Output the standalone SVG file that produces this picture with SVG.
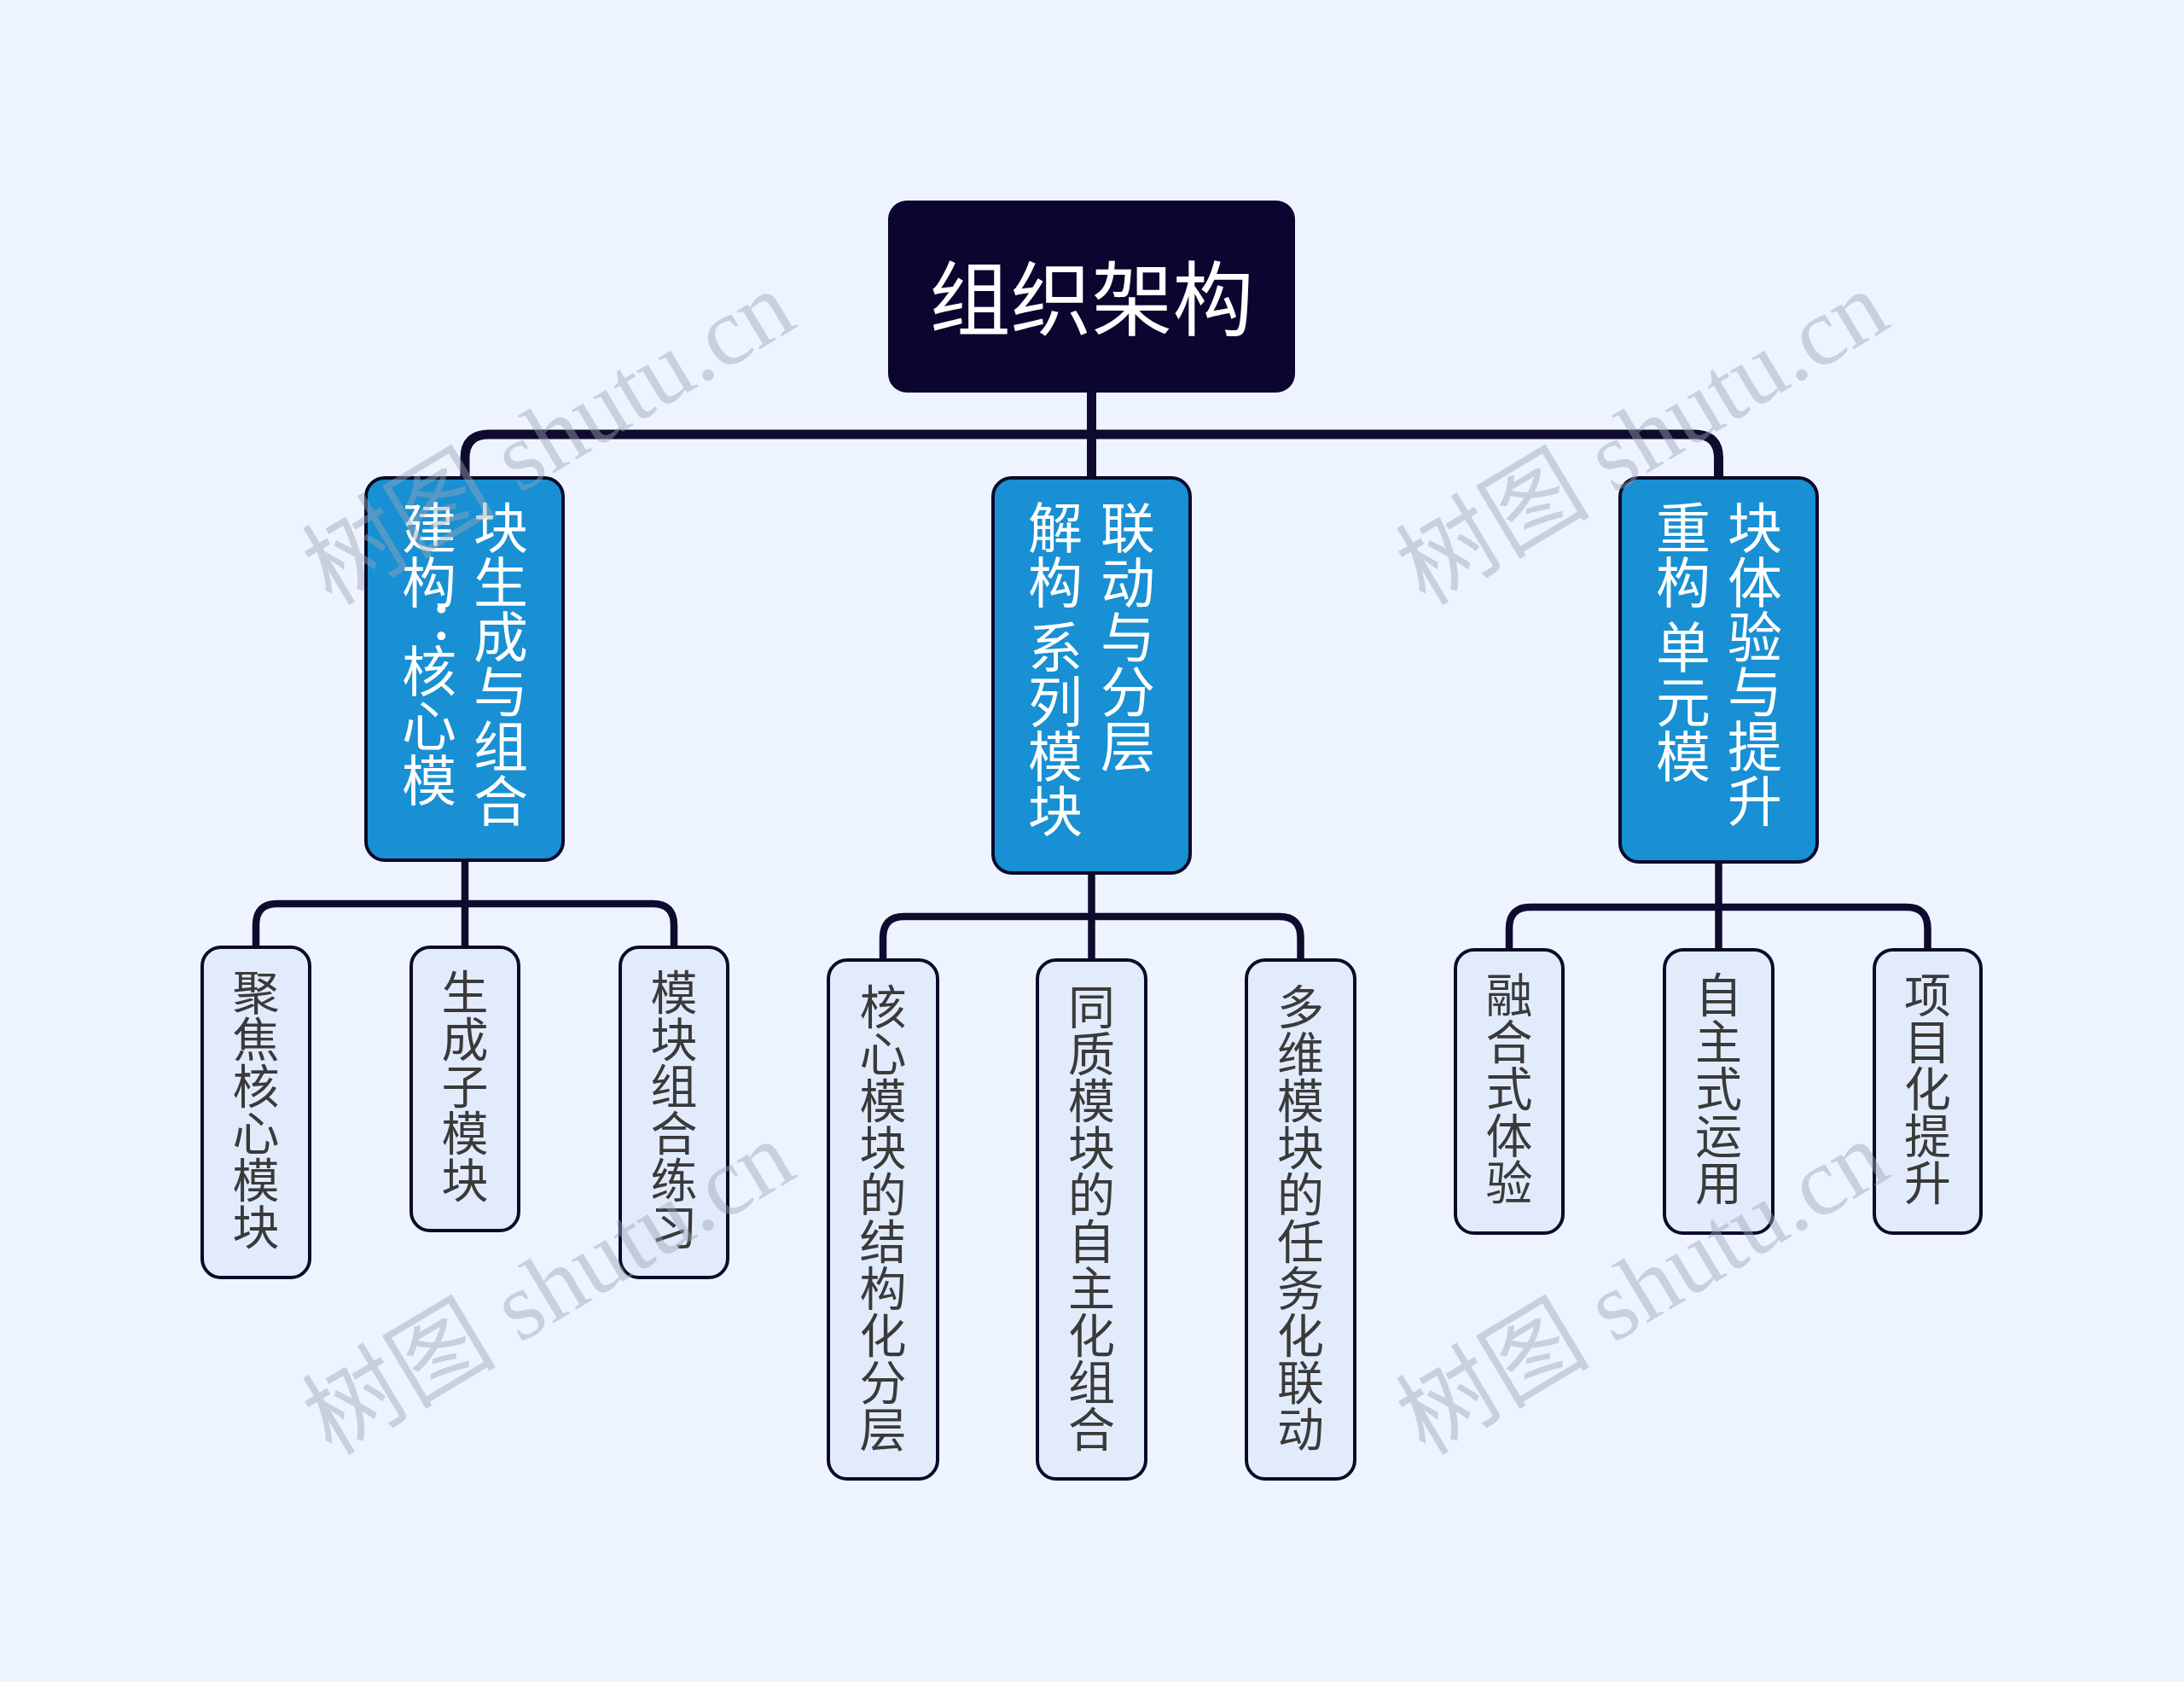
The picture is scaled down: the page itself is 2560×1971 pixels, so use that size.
<svg xmlns="http://www.w3.org/2000/svg" width="2560" height="1971" viewBox="0 0 2560 1971">
<style>
.bg{fill:#eef4ff}
.root{fill:#0b0630}
.l1{fill:#1890d3;stroke:#0b0a2a;stroke-width:4}
.l2{fill:#e2ebfc;stroke:#0b0a2a;stroke-width:4}
.c1{fill:none;stroke:#0e0b2e;stroke-width:11}
.c2{fill:none;stroke:#0e0b2e;stroke-width:8.5}
.tr{font-family:"Noto Sans CJK SC","Noto Sans",sans-serif;font-size:95px;fill:#ffffff;text-anchor:middle;dominant-baseline:central}
.t1{font-family:"Noto Sans CJK SC","Noto Sans",sans-serif;font-size:64px;fill:#ffffff;writing-mode:vertical-lr;text-orientation:upright}
.t2{font-family:"Noto Sans CJK SC","Noto Sans",sans-serif;font-size:55px;fill:#3a3a3a;writing-mode:vertical-lr;text-orientation:upright}
.wm{font-family:"Liberation Serif","Noto Sans CJK SC",serif;font-size:114px;fill:#9aa3b5;fill-opacity:0.45;text-anchor:middle}
</style>
<rect class="bg" x="0" y="0" width="2560" height="1971"/>

<g id="connectors">
<path class="c1" d="M1279.5 460 V560"/>
<path class="c1" d="M545 560 V537 Q545 509 573 509 H1986 Q2014.5 509 2014.5 537 V560"/>
<path class="c2" d="M545 1008 V1110"/>
<path class="c2" d="M300 1110 V1084 Q300 1059 325 1059 H765 Q790 1059 790 1084 V1110"/>
<path class="c2" d="M1279.5 1023 V1125"/>
<path class="c2" d="M1035 1125 V1099 Q1035 1074 1060 1074 H1499.5 Q1524.5 1074 1524.5 1099 V1125"/>
<path class="c2" d="M2014.5 1010 V1113"/>
<path class="c2" d="M1769 1113 V1088 Q1769 1063 1794 1063 H2234.5 Q2259.5 1063 2259.5 1088 V1113"/>
</g>

<g id="root">
<rect class="root" x="1041" y="235" width="477" height="225" rx="22"/>
<text class="tr" x="1279.5" y="344">组织架构</text>
</g>

<g id="n1">
<rect class="l1" x="429" y="560" width="231" height="448" rx="22"/>
<text class="t1"><tspan x="503" y="586">建构</tspan><tspan x="503" y="702">：</tspan><tspan x="503" y="754">核心模</tspan><tspan x="587" y="586">块生成与组合</tspan></text>
</g>
<g id="n2">
<rect class="l1" x="1164" y="560" width="231" height="463" rx="22"/>
<text class="t1"><tspan x="1237" y="586">解构</tspan><tspan x="1237" y="726">系列模块</tspan><tspan x="1322" y="586">联动与分层</tspan></text>
</g>
<g id="n3">
<rect class="l1" x="1899" y="560" width="231" height="450" rx="22"/>
<text class="t1"><tspan x="1973" y="586">重构</tspan><tspan x="1973" y="726">单元模</tspan><tspan x="2057" y="586">块体验与提升</tspan></text>
</g>

<g id="n1a"><rect class="l2" x="237" y="1110" width="126" height="387" rx="22"/><text class="t2" x="300" y="1135">聚焦核心模块</text></g>
<g id="n1b"><rect class="l2" x="482" y="1110" width="126" height="332" rx="22"/><text class="t2" x="545" y="1135">生成子模块</text></g>
<g id="n1c"><rect class="l2" x="727" y="1110" width="126" height="387" rx="22"/><text class="t2" x="790" y="1135">模块组合练习</text></g>

<g id="n2a"><rect class="l2" x="971" y="1125" width="128" height="608" rx="22"/><text class="t2" x="1035" y="1152">核心模块的结构化分层</text></g>
<g id="n2b"><rect class="l2" x="1216" y="1125" width="127" height="608" rx="22"/><text class="t2" x="1279.5" y="1152">同质模块的自主化组合</text></g>
<g id="n2c"><rect class="l2" x="1461" y="1125" width="127" height="608" rx="22"/><text class="t2" x="1524.5" y="1152">多维模块的任务化联动</text></g>

<g id="n3a"><rect class="l2" x="1706" y="1113" width="126" height="332" rx="22"/><text class="t2" x="1769" y="1138">融合式体验</text></g>
<g id="n3b"><rect class="l2" x="1951" y="1113" width="127" height="332" rx="22"/><text class="t2" x="2014.5" y="1138">自主式运用</text></g>
<g id="n3c"><rect class="l2" x="2197" y="1113" width="125" height="332" rx="22"/><text class="t2" x="2259.5" y="1138">项目化提升</text></g>

<g id="watermarks">
<text class="wm" transform="translate(663 546) rotate(-31)">树图 shutu.cn</text>
<text class="wm" transform="translate(1945 546) rotate(-31)">树图 shutu.cn</text>
<text class="wm" transform="translate(663 1542) rotate(-31)">树图 shutu.cn</text>
<text class="wm" transform="translate(1945 1542) rotate(-31)">树图 shutu.cn</text>
</g>
</svg>
